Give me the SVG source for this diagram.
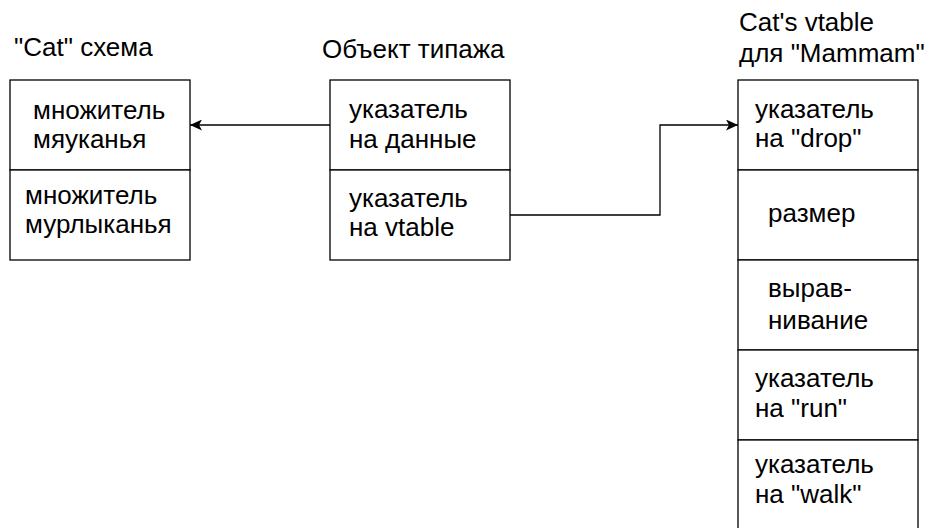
<svg xmlns="http://www.w3.org/2000/svg" width="930" height="528" viewBox="0 0 930 528">
  <style>
    .box { fill: #ffffff; stroke: #000000; stroke-width: 1.3; }
    .t { font-family: "Liberation Sans", Arial, sans-serif; font-size: 26px; fill: #000000; }
    .edge { fill: none; stroke: #000000; stroke-width: 1.3; }
  </style>
  <defs>
    <marker id="arrow" viewBox="0 0 12 11" refX="12" refY="5.5" markerWidth="12" markerHeight="11" markerUnits="userSpaceOnUse" orient="auto">
      <path d="M0,0 L12,5.5 L0,11 L3,5.5 Z" fill="#000000"/>
    </marker>
  </defs>
  <rect width="930" height="528" fill="#ffffff"/>

  <!-- "Cat" data layout -->
  <g id="cat-data">
    <text class="t" x="14" y="56">"Cat" схема</text>
    <rect class="box" x="10" y="80" width="180" height="90"/>
    <rect class="box" x="10" y="170" width="180" height="90"/>
    <text class="t" x="33" y="119">множитель</text>
    <text class="t" x="33" y="148">мяуканья</text>
    <text class="t" x="25" y="204">множитель</text>
    <text class="t" x="25" y="233">мурлыканья</text>
  </g>

  <!-- trait object: data pointer + vtable pointer -->
  <g id="trait-object">
    <text class="t" x="322" y="58">Объект типажа</text>
    <rect class="box" x="330" y="80" width="180" height="90"/>
    <rect class="box" x="330" y="170" width="180" height="90"/>
    <text class="t" x="349" y="118">указатель</text>
    <text class="t" x="349" y="148">на данные</text>
    <text class="t" x="349" y="207">указатель</text>
    <text class="t" x="349" y="236">на vtable</text>
  </g>

  <!-- vtable of Cat for the Mammal trait -->
  <g id="cat-vtable">
    <text class="t" x="739" y="31">Cat's vtable</text>
    <text class="t" x="739" y="62">для "Mammam"</text>
    <rect class="box" x="738" y="80" width="180" height="90"/>
    <rect class="box" x="738" y="170" width="180" height="90"/>
    <rect class="box" x="738" y="260" width="180" height="90"/>
    <rect class="box" x="738" y="350" width="180" height="90"/>
    <rect class="box" x="738" y="440" width="180" height="90"/>
    <text class="t" x="755" y="118">указатель</text>
    <text class="t" x="755" y="147">на "drop"</text>
    <text class="t" x="768" y="222">размер</text>
    <text class="t" x="768" y="297">вырав-</text>
    <text class="t" x="768" y="329">нивание</text>
    <text class="t" x="755" y="387">указатель</text>
    <text class="t" x="755" y="417">на "run"</text>
    <text class="t" x="755" y="473">указатель</text>
    <text class="t" x="755" y="503">на "walk"</text>
  </g>

  <!-- connectors -->
  <g id="connectors">
    <path class="edge" d="M330,125 L190,125" marker-end="url(#arrow)"/>
    <path class="edge" d="M510,215 L660,215 L660,125 L738,125" marker-end="url(#arrow)"/>
  </g>
</svg>
